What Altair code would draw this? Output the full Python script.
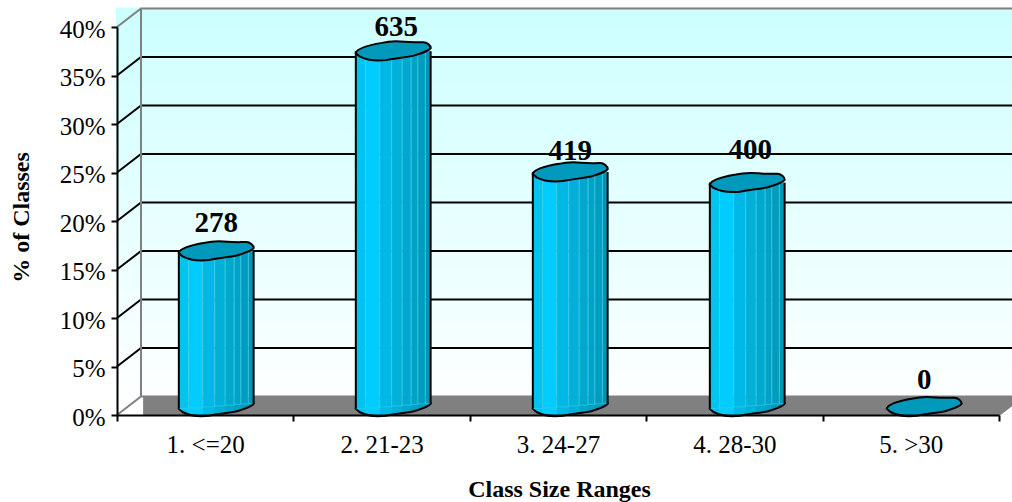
import altair as alt
import pandas as pd

# Class counts per size range; the percentage axis is each count's share of the total.
categories = ["1. <=20", "2. 21-23", "3. 24-27", "4. 28-30", "5. >30"]
counts = [278, 635, 419, 400, 0]
percent_ticks = [0, 5, 10, 15, 20, 25, 30, 35, 40]

# Oblique depth of the box, in x-scale and y-scale units.
DEPTH_X = 0.136
DEPTH_Y = 1.9
X_END = 5.2

# Cylinder geometry in the same units.
CENTER_SHIFT = 0.0625
BAR_PITCH = 1.0034
HALF_WIDTH = 0.212
MID_DEPTH = 0.85
FACE_SIZE = 5625
strip_edges = [0, 0.13, 0.32, 0.48, 0.62, 0.74, 0.83, 0.93, 1]
strip_colors = ["#00c4f0", "#00ccff", "#00b8e6", "#00b0d8", "#00a8ce", "#00a2c6", "#009cc0", "#0096b8"]

FONT = "Liberation Serif"
FACE_PATH = (
    "M-1,0.05 C-0.95,-0.1 -0.6,-0.17 -0.3,-0.22 C-0.1,-0.27 0.1,-0.27 0.3,-0.25 "
    "C0.5,-0.23 0.6,-0.24 0.8,-0.24 C0.9,-0.24 1,-0.15 1,-0.08 C0.95,0 0.75,0.06 0.55,0.12 "
    "C0.3,0.17 0.1,0.18 -0.2,0.24 C-0.5,0.27 -0.75,0.22 -0.9,0.14 Z"
)

# Value labels sit at slightly different distances above their cylinders (dx, dy in pixels).
label_nudges = {278: (0, -36), 635: (3, -32), 419: (0, -29), 400: (3, -41), 0: (0, -35)}

total = sum(counts)
bars = pd.DataFrame(
    {
        "category": categories,
        "count": counts,
        "share": [c / total * 100 for c in counts],
        "center": [0.5 + CENTER_SHIFT + i * BAR_PITCH for i in range(len(counts))],
    }
)
bars["base"] = MID_DEPTH
bars["top"] = bars["share"] + MID_DEPTH
bars["left"] = bars["center"] - HALF_WIDTH
bars["right"] = bars["center"] + HALF_WIDTH

standing = bars[bars["count"] > 0]

# The strips' lower ends rise from left to right, following the tilt of the base.
strips = pd.DataFrame(
    [
        {
            "x0": r.left + 2 * HALF_WIDTH * strip_edges[i],
            "x1": r.left + 2 * HALF_WIDTH * strip_edges[i + 1],
            "y0": r.base - 0.2 + 0.6 * strip_edges[i],
            "y1": r.top,
            "tone": strip_colors[i],
        }
        for r in standing.itertuples()
        for i in range(len(strip_colors))
    ]
)

edges = pd.DataFrame(
    [
        {"x": x, "y0": r.base + lift, "y1": r.top}
        for r in standing.itertuples()
        for x, lift in ((r.left, -0.2), (r.right, 0.3))
    ]
)

grid = pd.DataFrame(
    [
        {"level": p, "step": s, "x": x, "y": y}
        for p in percent_ticks[1:-1]
        for s, (x, y) in enumerate([(0, p), (DEPTH_X, p + DEPTH_Y), (X_END, p + DEPTH_Y)])
    ]
)

frame_paths = {
    "top": [(0, 40), (DEPTH_X, 40 + DEPTH_Y), (X_END, 40 + DEPTH_Y)],
    "back": [(DEPTH_X, 40 + DEPTH_Y), (DEPTH_X, DEPTH_Y)],
    "floor": [(0, 0), (DEPTH_X, DEPTH_Y), (X_END, DEPTH_Y)],
    "corner": [(5, 0), (5 + DEPTH_X, DEPTH_Y)],
}
frame = pd.DataFrame(
    [{"path": k, "step": s, "x": x, "y": y} for k, pts in frame_paths.items() for s, (x, y) in enumerate(pts)]
)

floor = pd.DataFrame(
    {
        "x": [DEPTH_X + 0.012, 5, 5 + DEPTH_X, X_END],
        "low": [0, 0, DEPTH_Y, DEPTH_Y],
        "high": [DEPTH_Y, DEPTH_Y, DEPTH_Y, DEPTH_Y],
    }
)

wall = pd.DataFrame({"x0": [-0.006], "x1": [X_END], "y0": [0], "y1": [40 + DEPTH_Y + 0.1]})

x_scale = alt.Scale(domain=[0, 5], nice=False, zero=False)
y_scale = alt.Scale(domain=[0, 40], nice=False)


def qx(field):
    return alt.X(field, type="quantitative", scale=x_scale, axis=None)


def qy(field):
    return alt.Y(field, type="quantitative", scale=y_scale, axis=None)


wall_layer = (
    alt.Chart(wall)
    .mark_rect(
        color=alt.Gradient(
            gradient="linear",
            stops=[alt.GradientStop(color="#ccffff", offset=0), alt.GradientStop(color="#ffffff", offset=1)],
            x1=0,
            x2=0,
            y1=0,
            y2=1,
        )
    )
    .encode(x=qx("x0"), x2="x1", y=qy("y0"), y2="y1")
)

floor_layer = (
    alt.Chart(floor)
    .mark_area(color="#808080", opacity=1)
    .encode(x=qx("x"), y=qy("low"), y2="high")
)

grid_layer = (
    alt.Chart(grid)
    .mark_line(color="#000000", strokeWidth=2)
    .encode(x=qx("x"), y=qy("y"), detail="level:N", order="step:O")
)

frame_layer = (
    alt.Chart(frame)
    .mark_line(color="#808080", strokeWidth=2)
    .encode(x=qx("x"), y=qy("y"), detail="path:N", order="step:O")
)

bottom_fill = alt.Gradient(
    gradient="linear",
    stops=[
        alt.GradientStop(color=c, offset=o)
        for i, c in enumerate(strip_colors)
        for o in (strip_edges[i], strip_edges[i + 1])
    ],
    x1=0,
    x2=1,
    y1=0,
    y2=0,
)

bottom_layer = (
    alt.Chart(standing)
    .mark_point(shape=FACE_PATH, size=FACE_SIZE, filled=True, fill=bottom_fill, stroke="#000000", strokeWidth=2, opacity=1)
    .encode(x=qx("center"), y=qy("base"))
)

strip_layer = (
    alt.Chart(strips)
    .mark_rect(strokeWidth=0.6, stroke="#45cfe8")
    .encode(x=qx("x0"), x2="x1", y=qy("y0"), y2="y1", color=alt.Color("tone:N", scale=None, legend=None))
)

edge_layer = (
    alt.Chart(edges)
    .mark_rule(color="#000000", strokeWidth=2)
    .encode(x=qx("x"), y=qy("y0"), y2="y1")
)

top_layer = (
    alt.Chart(bars)
    .mark_point(shape=FACE_PATH, size=FACE_SIZE, filled=True, fill="#0099bb", stroke="#000000", strokeWidth=2, opacity=1)
    .encode(x=qx("center"), y=qy("top"))
)

label_layers = [
    alt.Chart(bars[bars["count"] == count])
    .mark_text(font=FONT, fontWeight="bold", fontSize=29, color="#000000", dx=dx, dy=dy, baseline="middle")
    .encode(x=qx("center"), y=qy("share"), text="count:Q")
    for count, (dx, dy) in label_nudges.items()
]

axis_layer = (
    alt.Chart(bars)
    .mark_point(opacity=0)
    .encode(
        x=alt.X(
            "category:N",
            sort=None,
            scale=alt.Scale(paddingInner=0, paddingOuter=0),
            axis=alt.Axis(
                title="Class Size Ranges",
                titleFont=FONT,
                titleFontSize=24,
                titleFontWeight="bold",
                titleColor="#000000",
                titleY=62,
                titleX=442,
                labelFont=FONT,
                labelFontSize=25,
                labelColor="#000000",
                labelAngle=0,
                labelPadding=11,
                tickBand="extent",
                tickColor="#000000",
                tickWidth=2,
                tickSize=6,
                domainColor="#000000",
                domainWidth=2,
                grid=False,
                zindex=1,
            ),
        ),
        y=alt.Y(
            "base:Q",
            scale=y_scale,
            axis=alt.Axis(
                title="% of Classes",
                titleFont=FONT,
                titleFontSize=24,
                titleFontWeight="bold",
                titleColor="#000000",
                titleX=-84,
                titleY=190,
                values=percent_ticks,
                labelExpr="datum.value + '%'",
                labelFont=FONT,
                labelFontSize=25,
                labelColor="#000000",
                labelPadding=6,
                labelOffset=2,
                tickColor="#000000",
                tickWidth=2,
                tickSize=6,
                domainColor="#000000",
                domainWidth=2,
                grid=False,
                zindex=1,
            ),
        ),
    )
)

chart = (
    alt.layer(
        wall_layer,
        floor_layer,
        grid_layer,
        frame_layer,
        axis_layer,
        bottom_layer,
        strip_layer,
        edge_layer,
        top_layer,
        *label_layers,
    )
    .resolve_scale(x="independent")
    .resolve_axis(y="independent")
    .properties(
        width=882,
        height=388,
        padding={"left": 117, "top": 27, "right": 13, "bottom": 87},
        autosize=alt.AutoSizeParams(type="none"),
        background="#ffffff",
    )
    .configure_view(stroke=None)
)

chart.save("out.html", embed_options={"renderer": "svg", "actions": False})
